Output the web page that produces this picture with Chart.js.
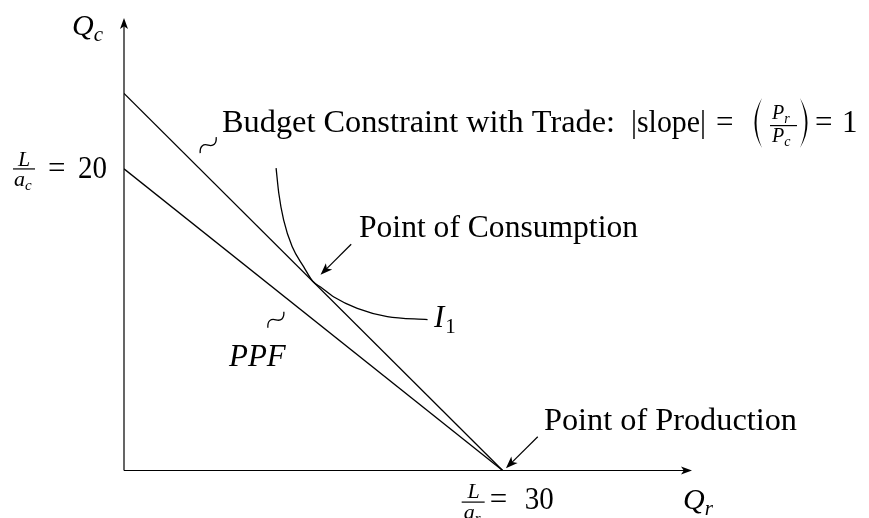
<!DOCTYPE html>
<html>
<head>
<meta charset="utf-8">
<script src="https://cdn.jsdelivr.net/npm/chart.js@4/dist/chart.umd.min.js"></script>
<style>
  html, body { margin: 0; padding: 0; background: #fff; }
  #wrap { width: 869px; height: 518px; }
</style>
</head>
<body>
<div id="wrap"><canvas id="chart" width="869" height="518"></canvas></div>
<script>
// axis extents (data units)
const xMax = 45;
const yMax = 30;

// production possibility frontier: L/a_c = 20, L/a_r = 30
const ppfX = [0, 30];
const ppfY = [20, 0];

// budget constraint with trade
const budgetX = [0, 30];
const budgetY = [25, 0];

// indifference curve I1
const indiffX = [12.05, 12.26, 12.65, 13.32, 14.24, 14.95, 15.6, 16.63, 18.48, 20.86, 24.05];
const indiffY = [20.05, 18.4, 16.6, 14.85, 13.5, 12.55, 12.15, 11.5, 10.75, 10.2, 10.0];

const toPoints = (xs, ys) => xs.map((v, i) => ({ x: v, y: ys[i] }));

const SERIF = '"Liberation Serif", "DejaVu Serif", serif';

function txt(ctx, s, x, y, size, italic) {
  ctx.font = (italic ? 'italic ' : '') + size + 'px ' + SERIF;
  ctx.fillText(s, x, y);
  return x + ctx.measureText(s).width;
}

// text stretched horizontally to a given width (the original font runs wider)
function wideTxt(ctx, s, x, y, size, width) {
  ctx.font = size + 'px ' + SERIF;
  const k = width / ctx.measureText(s).width;
  ctx.save();
  ctx.translate(x, y);
  ctx.scale(k, 1);
  ctx.fillText(s, 0, 0);
  ctx.restore();
}

function arrowHead(ctx, tx, ty, ang, len, wid) {
  const c = Math.cos(ang), s = Math.sin(ang);
  const bx = tx - c * len, by = ty - s * len;
  ctx.beginPath();
  ctx.moveTo(tx, ty);
  ctx.lineTo(bx - s * wid / 2, by + c * wid / 2);
  ctx.lineTo(tx - c * len * 0.75, ty - s * len * 0.75);
  ctx.lineTo(bx + s * wid / 2, by - c * wid / 2);
  ctx.closePath();
  ctx.fill();
}

function arrow(ctx, x1, y1, x2, y2, len, wid) {
  const ang = Math.atan2(y2 - y1, x2 - x1);
  ctx.beginPath();
  ctx.moveTo(x1, y1);
  ctx.lineTo(x2 - Math.cos(ang) * len * 0.7, y2 - Math.sin(ang) * len * 0.7);
  ctx.stroke();
  arrowHead(ctx, x2, y2, ang, len, wid);
}

// small S-shaped connector between a label and its curve
function squiggle(ctx, cx, cy) {
  ctx.beginPath();
  ctx.moveTo(cx - 8, cy + 8);
  ctx.bezierCurveTo(cx - 8.5, cy + 1, cx - 5, cy - 1.5, cx, cy);
  ctx.bezierCurveTo(cx + 5, cy + 1.5, cx + 8.5, cy - 1, cx + 8, cy - 8);
  ctx.stroke();
}

// tall bracket drawn as a thin crescent; dir -1 for "(", +1 for ")"
function paren(ctx, x, top, bottom, dir) {
  const mid = (top + bottom) / 2;
  ctx.beginPath();
  ctx.moveTo(x, top);
  ctx.quadraticCurveTo(x + dir * 15, mid, x, bottom);
  ctx.quadraticCurveTo(x + dir * 11, mid, x, top);
  ctx.fill();
}

const annotate = {
  id: 'annotate',
  afterDatasetsDraw(chart) {
    const { ctx, scales: { x, y } } = chart;
    const X = v => x.getPixelForValue(v);
    const Y = v => y.getPixelForValue(v);
    const ox = X(0), oy = Y(0);

    ctx.save();
    ctx.strokeStyle = '#000';
    ctx.fillStyle = '#000';
    ctx.lineWidth = 1.2;

    // axes with arrow heads
    ctx.beginPath();
    ctx.moveTo(ox, oy);
    ctx.lineTo(X(xMax) - 6, oy);
    ctx.moveTo(ox, oy);
    ctx.lineTo(ox, Y(yMax) + 6);
    ctx.stroke();
    arrowHead(ctx, X(xMax), oy, 0, 11, 8);
    arrowHead(ctx, ox, Y(yMax), -Math.PI / 2, 11, 8);

    // pointer arrows
    arrow(ctx, X(18.0), Y(15.0), X(15.57), Y(12.97), 12, 9);
    arrow(ctx, X(32.78), Y(2.24), X(30.26), Y(0.15), 12, 9);

    // connectors
    ctx.lineWidth = 1.3;
    squiggle(ctx, X(6.67), Y(21.57));
    squiggle(ctx, X(12.03), Y(9.99));

    ctx.textBaseline = 'alphabetic';
    ctx.textAlign = 'left';

    // axis titles
    let e = txt(ctx, 'Q', ox - 52, Y(yMax) + 17, 30, true);
    txt(ctx, 'c', e, Y(yMax) + 23, 21, true);
    e = txt(ctx, 'Q', X(xMax) - 9, oy + 38, 30, true);
    txt(ctx, 'r', e, oy + 44, 21, true);

    // L/a_c = 20
    const y20 = Y(20);
    ctx.textAlign = 'center';
    txt(ctx, 'L', 24, y20 - 3, 22, true);
    ctx.textAlign = 'left';
    e = txt(ctx, 'a', 14, y20 + 17, 22, true);
    txt(ctx, 'c', e, y20 + 21, 15, true);
    ctx.fillRect(13, y20 - 0.5, 22, 1.2);
    txt(ctx, '=', 48, y20 + 9, 31, false);
    wideTxt(ctx, '20', 78, y20 + 9, 31, 29);

    // L/a_r = 30
    const x30 = X(30);
    ctx.textAlign = 'center';
    txt(ctx, 'L', x30 - 29, oy + 27, 22, true);
    ctx.textAlign = 'left';
    e = txt(ctx, 'a', x30 - 39, oy + 48, 22, true);
    txt(ctx, 'r', e, oy + 52, 15, true);
    ctx.fillRect(x30 - 41, oy + 31, 23, 1.2);
    txt(ctx, '=', x30 - 13, oy + 38, 31, false);
    wideTxt(ctx, '30', x30 + 22, oy + 38, 31, 29);

    // budget label
    wideTxt(ctx, 'Budget Constraint with Trade:', 222, 132, 31, 393);
    wideTxt(ctx, '|slope|', 631, 132, 31, 75);
    txt(ctx, '=', 716, 132, 31, false);
    paren(ctx, 762, 98, 148, -1);
    e = txt(ctx, 'P', 772, 119, 20, true);
    txt(ctx, 'r', e, 123, 14, true);
    ctx.fillRect(770, 125, 27, 1.2);
    e = txt(ctx, 'P', 772, 142, 20, true);
    txt(ctx, 'c', e, 146, 14, true);
    paren(ctx, 800, 98, 148, 1);
    txt(ctx, '=', 815, 132, 31, false);
    txt(ctx, '1', 842, 132, 31, false);

    // other labels
    wideTxt(ctx, 'Point of Consumption', 359, 237, 31, 279);
    e = txt(ctx, 'I', 434, 327, 31, true);
    txt(ctx, '1', e + 1, 333, 21, false);
    txt(ctx, 'PPF', 229, 366, 31, true);
    wideTxt(ctx, 'Point of Production', 544, 430, 31, 253);

    ctx.restore();
  }
};

const lineStyle = {
  showLine: true,
  borderColor: '#000',
  borderWidth: 1.3,
  pointRadius: 0,
  fill: false,
};

new Chart(document.getElementById('chart'), {
  type: 'scatter',
  data: {
    datasets: [
      { label: 'PPF', data: toPoints(ppfX, ppfY), ...lineStyle },
      { label: 'Budget constraint', data: toPoints(budgetX, budgetY), ...lineStyle },
      { label: 'I1', data: toPoints(indiffX, indiffY), ...lineStyle, cubicInterpolationMode: 'monotone' },
    ],
  },
  options: {
    responsive: false,
    devicePixelRatio: 1,
    animation: false,
    layout: { padding: { left: 124, right: 177, top: 18, bottom: 47.5 } },
    scales: {
      x: { type: 'linear', min: 0, max: xMax, display: false },
      y: { type: 'linear', min: 0, max: yMax, display: false },
    },
    plugins: {
      legend: { display: false },
      tooltip: { enabled: false },
    },
  },
  plugins: [annotate],
});
</script>
</body>
</html>
